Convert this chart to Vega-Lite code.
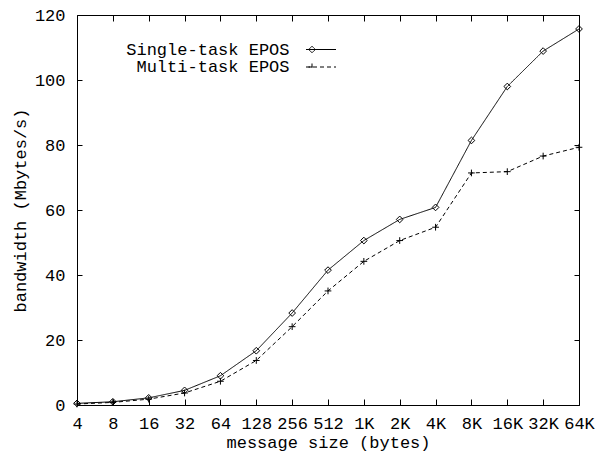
{
  "$schema": "https://vega.github.io/schema/vega-lite/v6.json",
  "width": 502,
  "height": 390,
  "autosize": "none",
  "padding": {"left": 77, "top": 15, "right": 26, "bottom": 46},
  "background": "white",
  "data": {
    "values": [
      {"size": "4", "series": "Single-task EPOS", "bw": 0.5},
      {"size": "8", "series": "Single-task EPOS", "bw": 1.0},
      {"size": "16", "series": "Single-task EPOS", "bw": 2.2},
      {"size": "32", "series": "Single-task EPOS", "bw": 4.5},
      {"size": "64", "series": "Single-task EPOS", "bw": 9.0},
      {"size": "128", "series": "Single-task EPOS", "bw": 16.7},
      {"size": "256", "series": "Single-task EPOS", "bw": 28.3},
      {"size": "512", "series": "Single-task EPOS", "bw": 41.5},
      {"size": "1K", "series": "Single-task EPOS", "bw": 50.6},
      {"size": "2K", "series": "Single-task EPOS", "bw": 57.1},
      {"size": "4K", "series": "Single-task EPOS", "bw": 60.8},
      {"size": "8K", "series": "Single-task EPOS", "bw": 81.4},
      {"size": "16K", "series": "Single-task EPOS", "bw": 98.0},
      {"size": "32K", "series": "Single-task EPOS", "bw": 108.9},
      {"size": "64K", "series": "Single-task EPOS", "bw": 115.7},
      {"size": "4", "series": "Multi-task EPOS", "bw": 0.3},
      {"size": "8", "series": "Multi-task EPOS", "bw": 0.8},
      {"size": "16", "series": "Multi-task EPOS", "bw": 1.8},
      {"size": "32", "series": "Multi-task EPOS", "bw": 3.7},
      {"size": "64", "series": "Multi-task EPOS", "bw": 7.3},
      {"size": "128", "series": "Multi-task EPOS", "bw": 13.7},
      {"size": "256", "series": "Multi-task EPOS", "bw": 24.1},
      {"size": "512", "series": "Multi-task EPOS", "bw": 35.1},
      {"size": "1K", "series": "Multi-task EPOS", "bw": 44.2},
      {"size": "2K", "series": "Multi-task EPOS", "bw": 50.6},
      {"size": "4K", "series": "Multi-task EPOS", "bw": 54.7},
      {"size": "8K", "series": "Multi-task EPOS", "bw": 71.4},
      {"size": "16K", "series": "Multi-task EPOS", "bw": 71.8},
      {"size": "32K", "series": "Multi-task EPOS", "bw": 76.6},
      {"size": "64K", "series": "Multi-task EPOS", "bw": 79.3}
    ]
  },
  "layer": [
    {
      "mark": {"type": "line", "color": "black", "strokeWidth": 1},
      "encoding": {
        "x": {
          "field": "size",
          "type": "ordinal",
          "sort": null,
          "scale": {"type": "point", "padding": 0},
          "axis": {"orient": "bottom", "title": "message size (bytes)", "labelAngle": 0, "tickSize": -6, "labelPadding": 16, "titlePadding": 3, "domain": false}
        },
        "y": {
          "field": "bw",
          "type": "quantitative",
          "scale": {"domain": [0, 120], "nice": false},
          "axis": {"orient": "left", "title": "bandwidth (Mbytes/s)", "values": [0, 20, 40, 60, 80, 100, 120], "tickSize": -5, "labelPadding": 17, "titlePadding": 5, "domain": false, "grid": false}
        },
        "strokeDash": {
          "field": "series",
          "type": "nominal",
          "scale": {"domain": ["Single-task EPOS", "Multi-task EPOS"], "range": [[1, 0], [4, 3]]},
          "legend": {
            "orient": "none",
            "legendX": 235.5,
            "legendY": 26,
            "title": null,
            "padding": 0,
            "symbolSize": 100,
            "labelAlign": "right",
            "labelOffset": -40,
            "labelLimit": 400,
            "rowPadding": 0,
            "encode": {
              "labels": {
                "update": {
                  "dy": [
                    {"test": "datum.value === 'Single-task EPOS'", "value": 0},
                    {"value": -4.5}
                  ]
                }
              },
              "symbols": {
                "update": {
                  "shape": [
                    {"test": "datum.value === 'Single-task EPOS'", "value": "M-3,0L3,0M-1.8,-0.66L-1.14,0L-1.8,0.66L-2.46,0Z"},
                    {"value": "M-3,-0.9L3,-0.9M-1.8,-1.6L-1.8,-0.2M-2.5,-0.9L-1.1,-0.9"}
                  ],
                  "fill": {"value": "transparent"},
                  "stroke": {"value": "black"},
                  "strokeWidth": {"value": 1}
                }
              }
            }
          }
        }
      }
    },
    {
      "transform": [{"filter": "datum.series === 'Single-task EPOS'"}],
      "mark": {"type": "point", "filled": false, "color": "black", "strokeWidth": 1, "opacity": 1, "size": 45, "shape": "diamond"},
      "encoding": {
        "x": {
          "field": "size",
          "type": "ordinal",
          "sort": null,
          "axis": {"orient": "top", "title": null, "labels": false, "tickSize": -6, "domain": false}
        },
        "y": {
          "field": "bw",
          "type": "quantitative",
          "axis": {"orient": "right", "title": null, "labels": false, "values": [0, 20, 40, 60, 80, 100, 120], "tickSize": -5, "domain": false, "grid": false}
        }
      }
    },
    {
      "transform": [{"filter": "datum.series === 'Multi-task EPOS'"}],
      "mark": {"type": "point", "filled": false, "color": "black", "strokeWidth": 1, "opacity": 1, "size": 45, "shape": "M-1,0L1,0M0,-1L0,1"},
      "encoding": {
        "x": {"field": "size", "type": "ordinal", "sort": null, "axis": null},
        "y": {"field": "bw", "type": "quantitative", "axis": null}
      }
    }
  ],
  "resolve": {"axis": {"x": "independent", "y": "independent"}},
  "config": {
    "view": {"stroke": "black", "strokeWidth": 1},
    "font": "Liberation Mono",
    "axis": {
      "labelFont": "Liberation Mono",
      "titleFont": "Liberation Mono",
      "labelFontSize": 17,
      "titleFontSize": 17,
      "titleFontWeight": "normal",
      "labelColor": "black",
      "titleColor": "black",
      "tickColor": "black",
      "tickWidth": 1
    },
    "legend": {
      "labelFont": "Liberation Mono",
      "labelFontSize": 17,
      "labelColor": "black",
      "symbolStrokeColor": "black"
    }
  }
}
